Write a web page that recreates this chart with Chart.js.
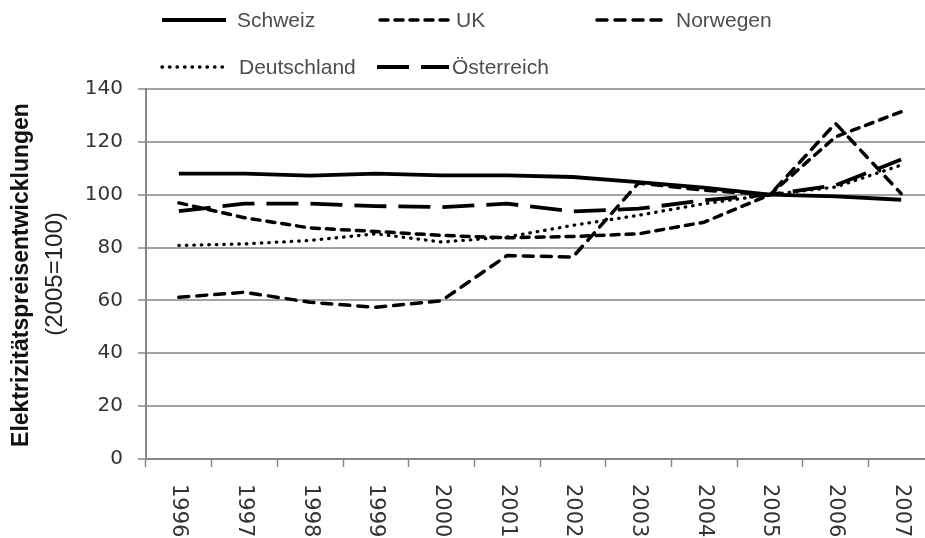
<!DOCTYPE html>
<html>
<head>
<meta charset="utf-8">
<script src="https://cdn.jsdelivr.net/npm/chart.js@4.4.1/dist/chart.umd.min.js"></script>
<style>
  html, body { margin: 0; padding: 0; background: #fff; overflow: hidden; }
  #wrap { width: 945px; height: 538px; }
</style>
</head>
<body>
<div id="wrap"><canvas id="c" width="945" height="538"></canvas></div>
<script>
// Electricity price development, index 2005 = 100
const years = ['1996', '1997', '1998', '1999', '2000', '2001', '2002', '2003', '2004', '2005', '2006', '2007'];
const schweiz     = [108, 108, 107.2, 108, 107.3, 107.3, 106.7, 104.8, 102.7, 100, 99.4, 98.1];
const uk          = [96.9, 91.3, 87.4, 86.1, 84.6, 83.7, 84.2, 85.2, 89.6, 100, 121.9, 131.4];
const norwegen    = [61.2, 63.1, 59.3, 57.4, 59.9, 77, 76.4, 104.4, 101.7, 100, 127, 100.4];
const deutschland = [80.8, 81.4, 82.7, 85.2, 82.1, 84, 88.4, 92.2, 96.6, 100, 102.9, 111.2];
const oesterreich = [93.8, 96.6, 96.6, 95.7, 95.3, 96.6, 93.7, 94.7, 97.9, 100, 103.6, 113.3];
const yTicks = [0, 20, 40, 60, 80, 100, 120, 140];
const yTitle = ['Elektrizitätspreisentwicklungen', '(2005=100)'];

// Legend slots: sample line start/end, text start, row centre
const legendSlots = [
  { x1: 162, x2: 226, tx: 237, y: 20 },
  { x1: 380, x2: 451, tx: 456, y: 20 },
  { x1: 597, x2: 668, tx: 676, y: 20 },
  { x1: 162, x2: 228, tx: 239, y: 67 },
  { x1: 377, x2: 449, tx: 452, y: 67 }
];

const decor = {
  id: 'decor',
  afterDraw(chart) {
    const ctx = chart.ctx;
    const xs = chart.scales.x;
    ctx.save();

    // category labels, rotated clockwise
    ctx.font = '21px "DejaVu Sans"';
    ctx.fillStyle = '#333';
    ctx.textAlign = 'left';
    ctx.textBaseline = 'middle';
    years.forEach((yr, i) => {
      const px = xs.getPixelForTick(i);
      ctx.save();
      ctx.translate(px, 484);
      ctx.rotate(Math.PI / 2);
      ctx.fillText(yr, 0, 0);
      ctx.restore();
    });

    // axis title, two lines
    ctx.textAlign = 'center';
    ctx.fillStyle = '#111';
    ctx.save();
    ctx.translate(22, 275);
    ctx.rotate(-Math.PI / 2);
    ctx.font = 'bold 23px "Liberation Sans"';
    ctx.fillText(yTitle[0], 0, 0);
    ctx.restore();
    ctx.save();
    ctx.translate(55, 274);
    ctx.rotate(-Math.PI / 2);
    ctx.font = '24px "Liberation Sans"';
    ctx.fillStyle = '#222';
    ctx.fillText(yTitle[1], 0, 0);
    ctx.restore();

    // legend
    ctx.textAlign = 'left';
    ctx.font = '21px "Liberation Sans"';
    chart.data.datasets.forEach((ds, i) => {
      const s = legendSlots[i];
      ctx.save();
      ctx.strokeStyle = ds.borderColor;
      ctx.lineWidth = ds.borderWidth;
      ctx.lineCap = ds.borderCapStyle || 'butt';
      ctx.setLineDash(ds.borderDash || []);
      ctx.beginPath();
      ctx.moveTo(s.x1, s.y);
      ctx.lineTo(s.x2, s.y);
      ctx.stroke();
      ctx.restore();
      ctx.fillStyle = '#4d4d4d';
      ctx.fillText(ds.label, s.tx, s.y + 1);
    });
    ctx.restore();
  }
};

const line = (label, data, dash, cap, width) => ({
  label, data,
  borderColor: '#000',
  backgroundColor: '#000',
  borderWidth: width,
  borderDash: dash,
  borderCapStyle: cap,
  borderJoinStyle: 'round',
  pointRadius: 0,
  tension: 0,
  fill: false
});

new Chart(document.getElementById('c'), {
  type: 'line',
  data: {
    labels: years,
    datasets: [
      line('Schweiz', schweiz, [], 'butt', 3.8),
      line('UK', uk, [8, 7], 'round', 3.5),
      line('Norwegen', norwegen, [10, 8], 'round', 3.5),
      line('Deutschland', deutschland, [0.5, 7], 'round', 3.3),
      line('Österreich', oesterreich, [32, 12], 'butt', 3.8)
    ]
  },
  options: {
    responsive: false,
    animation: false,
    layout: { padding: { top: 89, right: 11, left: 0, bottom: 0 } },
    plugins: { legend: { display: false }, tooltip: { enabled: false } },
    scales: {
      x: {
        offset: true,
        grid: { offset: true, drawOnChartArea: false, drawTicks: true, tickLength: 8, tickColor: '#888', tickWidth: 1.5 },
        border: { color: '#888', width: 2 },
        ticks: { display: false },
        afterFit: (s) => { s.height = 79; }
      },
      y: {
        min: 0, max: 140,
        afterBuildTicks: (s) => { s.ticks = yTicks.map(v => ({ value: v })); },
        grid: { color: '#a3a3a3', lineWidth: 2, tickLength: 8, tickColor: '#888', tickWidth: 1.5 },
        border: { color: '#888', width: 2 },
        ticks: { font: { family: 'DejaVu Sans', size: 20 }, color: '#333', padding: 15 },
        afterFit: (s) => { s.width = 146; }
      }
    }
  },
  plugins: [decor]
});
</script>
</body>
</html>
